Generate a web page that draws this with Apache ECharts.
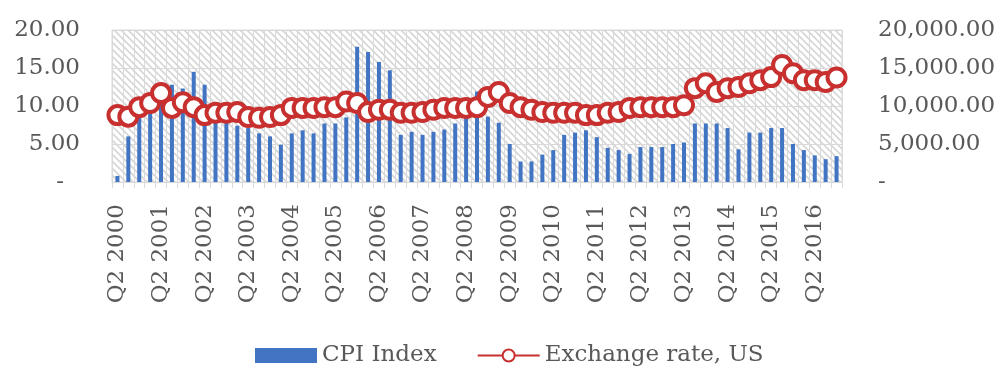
<!DOCTYPE html>
<html>
<head>
<meta charset="utf-8">
<script src="https://cdn.jsdelivr.net/npm/echarts@6/dist/echarts.min.js"></script>
<style>
  html, body { margin: 0; padding: 0; background: #fff; }
  #main { width: 999px; height: 369px; }
</style>
</head>
<body>
<div id="main"></div>
<script>
  // quarters, Q2 2000 .. Q4 2016
  var quarters = [
    'Q2 2000', 'Q3 2000', 'Q4 2000',
    'Q1 2001', 'Q2 2001', 'Q3 2001', 'Q4 2001',
    'Q1 2002', 'Q2 2002', 'Q3 2002', 'Q4 2002',
    'Q1 2003', 'Q2 2003', 'Q3 2003', 'Q4 2003',
    'Q1 2004', 'Q2 2004', 'Q3 2004', 'Q4 2004',
    'Q1 2005', 'Q2 2005', 'Q3 2005', 'Q4 2005',
    'Q1 2006', 'Q2 2006', 'Q3 2006', 'Q4 2006',
    'Q1 2007', 'Q2 2007', 'Q3 2007', 'Q4 2007',
    'Q1 2008', 'Q2 2008', 'Q3 2008', 'Q4 2008',
    'Q1 2009', 'Q2 2009', 'Q3 2009', 'Q4 2009',
    'Q1 2010', 'Q2 2010', 'Q3 2010', 'Q4 2010',
    'Q1 2011', 'Q2 2011', 'Q3 2011', 'Q4 2011',
    'Q1 2012', 'Q2 2012', 'Q3 2012', 'Q4 2012',
    'Q1 2013', 'Q2 2013', 'Q3 2013', 'Q4 2013',
    'Q1 2014', 'Q2 2014', 'Q3 2014', 'Q4 2014',
    'Q1 2015', 'Q2 2015', 'Q3 2015', 'Q4 2015',
    'Q1 2016', 'Q2 2016', 'Q3 2016', 'Q4 2016'
  ];

  var cpiIndex = [
    0.8, 6.0, 8.5,
    9.5, 10.5, 12.8, 12.3,
    14.5, 12.8, 10.5, 10.0,
    7.4, 7.1, 6.4, 6.0,
    4.9, 6.4, 6.8, 6.4,
    7.7, 7.7, 8.5, 17.8,
    17.1, 15.8, 14.7, 6.2,
    6.6, 6.2, 6.6, 6.9,
    7.7, 9.5, 11.9, 8.6,
    7.8, 5.0, 2.7, 2.7,
    3.6, 4.2, 6.2, 6.5,
    6.8, 5.9, 4.5, 4.2,
    3.7, 4.6, 4.6, 4.6,
    5.0, 5.2, 7.7, 7.7,
    7.7, 7.1, 4.3, 6.5,
    6.5, 7.1, 7.1, 5.0,
    4.2, 3.5, 3.0, 3.4
  ];

  var exchangeRate = [
    8800, 8600, 9850,
    10400, 11700, 9750, 10500,
    9850, 8800, 9100, 9100,
    9200, 8550, 8450, 8550,
    8800, 9750, 9750, 9750,
    9850, 9850, 10600, 10400,
    9200, 9500, 9500, 9100,
    9100, 9200, 9500, 9750,
    9750, 9750, 9850, 11200,
    11850, 10400, 9850, 9500,
    9200, 9100, 9100, 9100,
    8800, 8800, 9100, 9200,
    9750, 9850, 9850, 9850,
    9850, 10100, 12350, 13000,
    11850, 12350, 12500, 13000,
    13400, 13800, 15400, 14300,
    13400, 13400, 13150, 13750
  ];

  var leftTicks = [0, 5, 10, 15, 20];
  var rightTicks = [0, 5000, 10000, 15000, 20000];

  // hatched plot background
  function hatch() {
    var c = document.createElement('canvas');
    c.width = 7; c.height = 7;
    var ctx = c.getContext('2d');
    ctx.fillStyle = '#ffffff';
    ctx.fillRect(0, 0, 7, 7);
    ctx.strokeStyle = '#d6d6d6';
    ctx.lineWidth = 1.6;
    ctx.beginPath();
    ctx.moveTo(-1, -1); ctx.lineTo(8, 8);
    ctx.moveTo(-1, 6); ctx.lineTo(1, 8);
    ctx.moveTo(6, -1); ctx.lineTo(8, 1);
    ctx.stroke();
    return c;
  }

  function withCommas(v) {
    return v.toFixed(2).replace(/\B(?=(\d{3})+(?!\d))/g, ',');
  }

  var textColor = '#595959';
  var serif = 'DejaVu Serif';

  var chart = echarts.init(document.getElementById('main'));
  chart.setOption({
    animation: false,
    textStyle: { fontFamily: serif },
    grid: {
      left: 112, right: 157, top: 30, bottom: 187,
      show: true,
      borderColor: '#d9d9d9',
      borderWidth: 1,
      backgroundColor: { image: hatch(), repeat: 'repeat' }
    },
    legend: {
      left: 250, top: 339,
      itemGap: 40,
      itemWidth: 62,
      itemHeight: 15,
      textStyle: { color: textColor, fontSize: 23, fontFamily: serif },
      data: [
        { name: 'CPI Index', icon: 'rect' },
        { name: 'Exchange rate, US' }
      ]
    },
    xAxis: {
      type: 'category',
      data: quarters,
      boundaryGap: true,
      axisLine: { lineStyle: { color: '#d9d9d9' } },
      axisTick: { show: true, interval: 0, length: 6, lineStyle: { color: '#d9d9d9' } },
      splitLine: { show: true, interval: 0, lineStyle: { color: '#dadada', width: 1 } },
      axisLabel: {
        interval: 3,
        rotate: 90,
        margin: 22,
        color: textColor,
        fontSize: 23,
        fontFamily: serif
      }
    },
    yAxis: [
      {
        type: 'value',
        min: leftTicks[0], max: leftTicks[leftTicks.length - 1], interval: 5,
        splitLine: { show: true, lineStyle: { color: '#d9d9d9' } },
        axisLine: { show: false },
        axisTick: { show: false },
        axisLabel: {
          margin: 32,
          color: textColor,
          fontSize: 23,
          fontFamily: serif,
          formatter: function (v) { return v === 0 ? '{z|-}' : v.toFixed(2); },
          rich: { z: { padding: [0, 16, 0, 0], fontSize: 23, color: textColor } }
        }
      },
      {
        type: 'value',
        min: rightTicks[0], max: rightTicks[rightTicks.length - 1], interval: 5000,
        splitLine: { show: false },
        axisLine: { show: false },
        axisTick: { show: false },
        axisLabel: {
          margin: 36,
          color: textColor,
          fontSize: 23,
          fontFamily: serif,
          formatter: function (v) { return v === 0 ? '-' : withCommas(v); }
        }
      }
    ],
    series: [
      {
        name: 'CPI Index',
        type: 'bar',
        yAxisIndex: 0,
        barWidth: 4,
        itemStyle: { color: '#4174c2' },
        data: cpiIndex
      },
      {
        name: 'Exchange rate, US',
        type: 'line',
        yAxisIndex: 1,
        symbol: 'circle',
        symbolSize: 18,
        showAllSymbol: true,
        lineStyle: { color: '#c8302f', width: 3 },
        itemStyle: { color: '#ffffff', borderColor: '#c8302f', borderWidth: 4 },
        data: exchangeRate
      }
    ]
  });
</script>
</body>
</html>
